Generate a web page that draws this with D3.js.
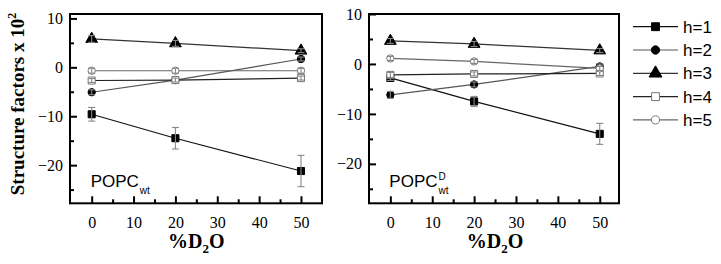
<!DOCTYPE html>
<html lang="en">
<head>
  <meta charset="UTF-8">
  <script src="https://d3js.org/d3.v7.min.js"></script>
  <title>Structure factors</title>
  <style>
    body { margin: 0; background: #fff; }
    svg { display: block; }
    .tick text { font-family: "Liberation Serif", "Times New Roman", serif; font-size: 16px; fill: #000; }
  </style>
</head>
<body>
  <svg id="chart" width="721" height="264"></svg>
  <script>
    // x positions (%D2O)
    const d2o = [0, 20, 50];
    const harmonics = ["h=1", "h=2", "h=3", "h=4", "h=5"];

    // POPC wt panel
    const wtH1 = [-9.6, -14.5, -21.2], wtH1Err = [1.4, 2.2, 3.2];
    const wtH2 = [-5.1, -2.6, 1.7],    wtH2Err = [0.5, 0.4, 0.4];
    const wtH3 = [5.8, 4.9, 3.4],      wtH3Err = [0.7, 0.6, 0.4];
    const wtH4 = [-2.7, -2.6, -2.2],   wtH4Err = [0.4, 0.4, 0.4];
    const wtH5 = [-0.7, -0.7, -0.7],   wtH5Err = [0.5, 0.5, 0.5];

    // POPC^D wt panel
    const dH1 = [-2.8, -7.5, -14.0], dH1Err = [0.5, 1.0, 2.1];
    const dH2 = [-6.2, -4.1, -0.5],  dH2Err = [0.7, 0.5, 0.5];
    const dH3 = [4.6, 4.0, 2.7],     dH3Err = [0.5, 0.5, 0.4];
    const dH4 = [-2.2, -2.0, -1.9],  dH4Err = [0.5, 0.4, 0.4];
    const dH5 = [1.1, 0.5, -0.9],    dH5Err = [0.4, 0.4, 0.4];

    const xTicks = [0, 10, 20, 30, 40, 50];
    const xMinor = [5, 15, 25, 35, 45];
    const yTicks = [10, 0, -10, -20];
    const yMinor = [5, -5, -15, -25];

    // marker style per harmonic
    const styles = [
      {shape: d3.symbolSquare,   fill: "#000", stroke: "#000", line: "#111", size: 50},
      {shape: d3.symbolCircle,   fill: "#000", stroke: "#000", line: "#555", size: 42},
      {shape: d3.symbolTriangle, fill: "#000", stroke: "#000", line: "#333", size: 60},
      {shape: d3.symbolSquare,   fill: "#fff", stroke: "#777", line: "#222", size: 50},
      {shape: d3.symbolCircle,   fill: "#fff", stroke: "#777", line: "#666", size: 42}
    ];

    const svg = d3.select("#chart");

    const panels = [
      {x0: 70, x1: 322, xDom: [-5.18, 55.02], yDom: [-27.8, 10.9],
       series: [[wtH1, wtH1Err], [wtH2, wtH2Err], [wtH3, wtH3Err], [wtH4, wtH4Err], [wtH5, wtH5Err]],
       label: "POPC", sup: null},
      {x0: 369, x1: 619, xDom: [-5.1, 54.6], yDom: [-27.9, 10],
       series: [[dH1, dH1Err], [dH2, dH2Err], [dH3, dH3Err], [dH4, dH4Err], [dH5, dH5Err]],
       label: "POPC", sup: "D"}
    ];
    const plotTop = 14, plotBottom = 203.3;

    panels.forEach(p => {
      const x = d3.scaleLinear().domain(p.xDom).range([p.x0, p.x1]);
      const y = d3.scaleLinear().domain(p.yDom).range([plotBottom, plotTop]);
      const g = svg.append("g");

      // axes - ticks point inward
      g.append("g").attr("transform", `translate(0,${plotBottom})`)
        .call(d3.axisBottom(x).tickValues(xTicks).tickSize(-7).tickPadding(13));
      g.append("g").attr("transform", `translate(0,${plotBottom})`)
        .call(d3.axisBottom(x).tickValues(xMinor).tickSize(-4).tickFormat(""));
      g.append("g").attr("transform", `translate(${p.x0},0)`)
        .call(d3.axisLeft(y).tickValues(yTicks).tickSize(-7).tickPadding(7));
      g.append("g").attr("transform", `translate(${p.x0},0)`)
        .call(d3.axisLeft(y).tickValues(yMinor).tickSize(-4).tickFormat(""));

      g.selectAll(".domain").remove();
      g.selectAll(".tick line").attr("stroke", "#000").attr("stroke-width", 2);

      // frame
      g.append("rect").attr("x", p.x0).attr("y", plotTop)
        .attr("width", p.x1 - p.x0).attr("height", plotBottom - plotTop)
        .attr("fill", "none").attr("stroke", "#000").attr("stroke-width", 2);

      // series
      p.series.forEach((s, i) => {
        const st = styles[i];
        const pts = d2o.map((d, k) => ({x: d, y: s[0][k], e: s[1][k]}));
        g.append("path").datum(pts)
          .attr("fill", "none").attr("stroke", st.line).attr("stroke-width", 1.2)
          .attr("d", d3.line().x(d => x(d.x)).y(d => y(d.y)));
        g.selectAll(null).data(pts).enter().append("path")
          .attr("d", d3.symbol().type(st.shape).size(st.size))
          .attr("transform", d => `translate(${x(d.x)},${y(d.y)})`)
          .attr("fill", st.fill).attr("stroke", st.stroke).attr("stroke-width", 1);
        // error bars drawn over the markers
        const eb = g.append("g").attr("stroke", "#888").attr("stroke-width", 1.1);
        pts.forEach(d => {
          const cx = x(d.x);
          eb.append("line").attr("x1", cx).attr("x2", cx).attr("y1", y(d.y - d.e)).attr("y2", y(d.y + d.e));
          eb.append("line").attr("x1", cx - 3.5).attr("x2", cx + 3.5).attr("y1", y(d.y - d.e)).attr("y2", y(d.y - d.e));
          eb.append("line").attr("x1", cx - 3.5).attr("x2", cx + 3.5).attr("y1", y(d.y + d.e)).attr("y2", y(d.y + d.e));
        });
      });

      // panel label
      const lx = x(0) - 1, ly = 187;
      const t = g.append("text").attr("x", lx).attr("y", ly)
        .attr("font-family", "Liberation Sans, Arial, sans-serif").attr("font-size", 17).text(p.label);
      const w = t.node().getComputedTextLength();
      g.append("text").attr("x", lx + w + 1).attr("y", ly + 7)
        .attr("font-family", "Liberation Sans, Arial, sans-serif").attr("font-size", 10).text("wt");
      if (p.sup) {
        g.append("text").attr("x", lx + w + 1).attr("y", ly - 7)
          .attr("font-family", "Liberation Sans, Arial, sans-serif").attr("font-size", 10).text(p.sup);
      }

      // x label
      const xl = g.append("text").attr("x", (x(0) + x(50)) / 2).attr("y", 248)
        .attr("text-anchor", "middle").attr("font-family", "Liberation Serif, Times New Roman, serif")
        .attr("font-weight", "bold").attr("font-size", 20);
      xl.append("tspan").text("%D");
      xl.append("tspan").attr("font-size", 13).attr("dy", 5).text("2");
      xl.append("tspan").attr("dy", -5).text("O");
    });

    // y axis title
    const yt = svg.append("text").attr("transform", "translate(24,104) rotate(-90)")
      .attr("text-anchor", "middle").attr("font-family", "Liberation Serif, Times New Roman, serif")
      .attr("font-weight", "bold").attr("font-size", 19);
    yt.append("tspan").text("Structure factors x 10");
    yt.append("tspan").attr("font-size", 12).attr("dy", -8).text("2");

    // legend
    const legend = svg.append("g");
    harmonics.forEach((h, i) => {
      const st = styles[i];
      const ly = 26.7 + i * 23.3;
      legend.append("line").attr("x1", 633).attr("x2", 678).attr("y1", ly).attr("y2", ly)
        .attr("stroke", st.line).attr("stroke-width", 1.2);
      legend.append("path").attr("d", d3.symbol().type(st.shape).size(st.size + 12))
        .attr("transform", `translate(655.5,${ly})`)
        .attr("fill", st.fill).attr("stroke", st.stroke);
      legend.append("text").attr("x", 683).attr("y", ly + 6)
        .attr("font-family", "Liberation Sans, Arial, sans-serif").attr("font-size", 17).text(h);
    });
  </script>
</body>
</html>
